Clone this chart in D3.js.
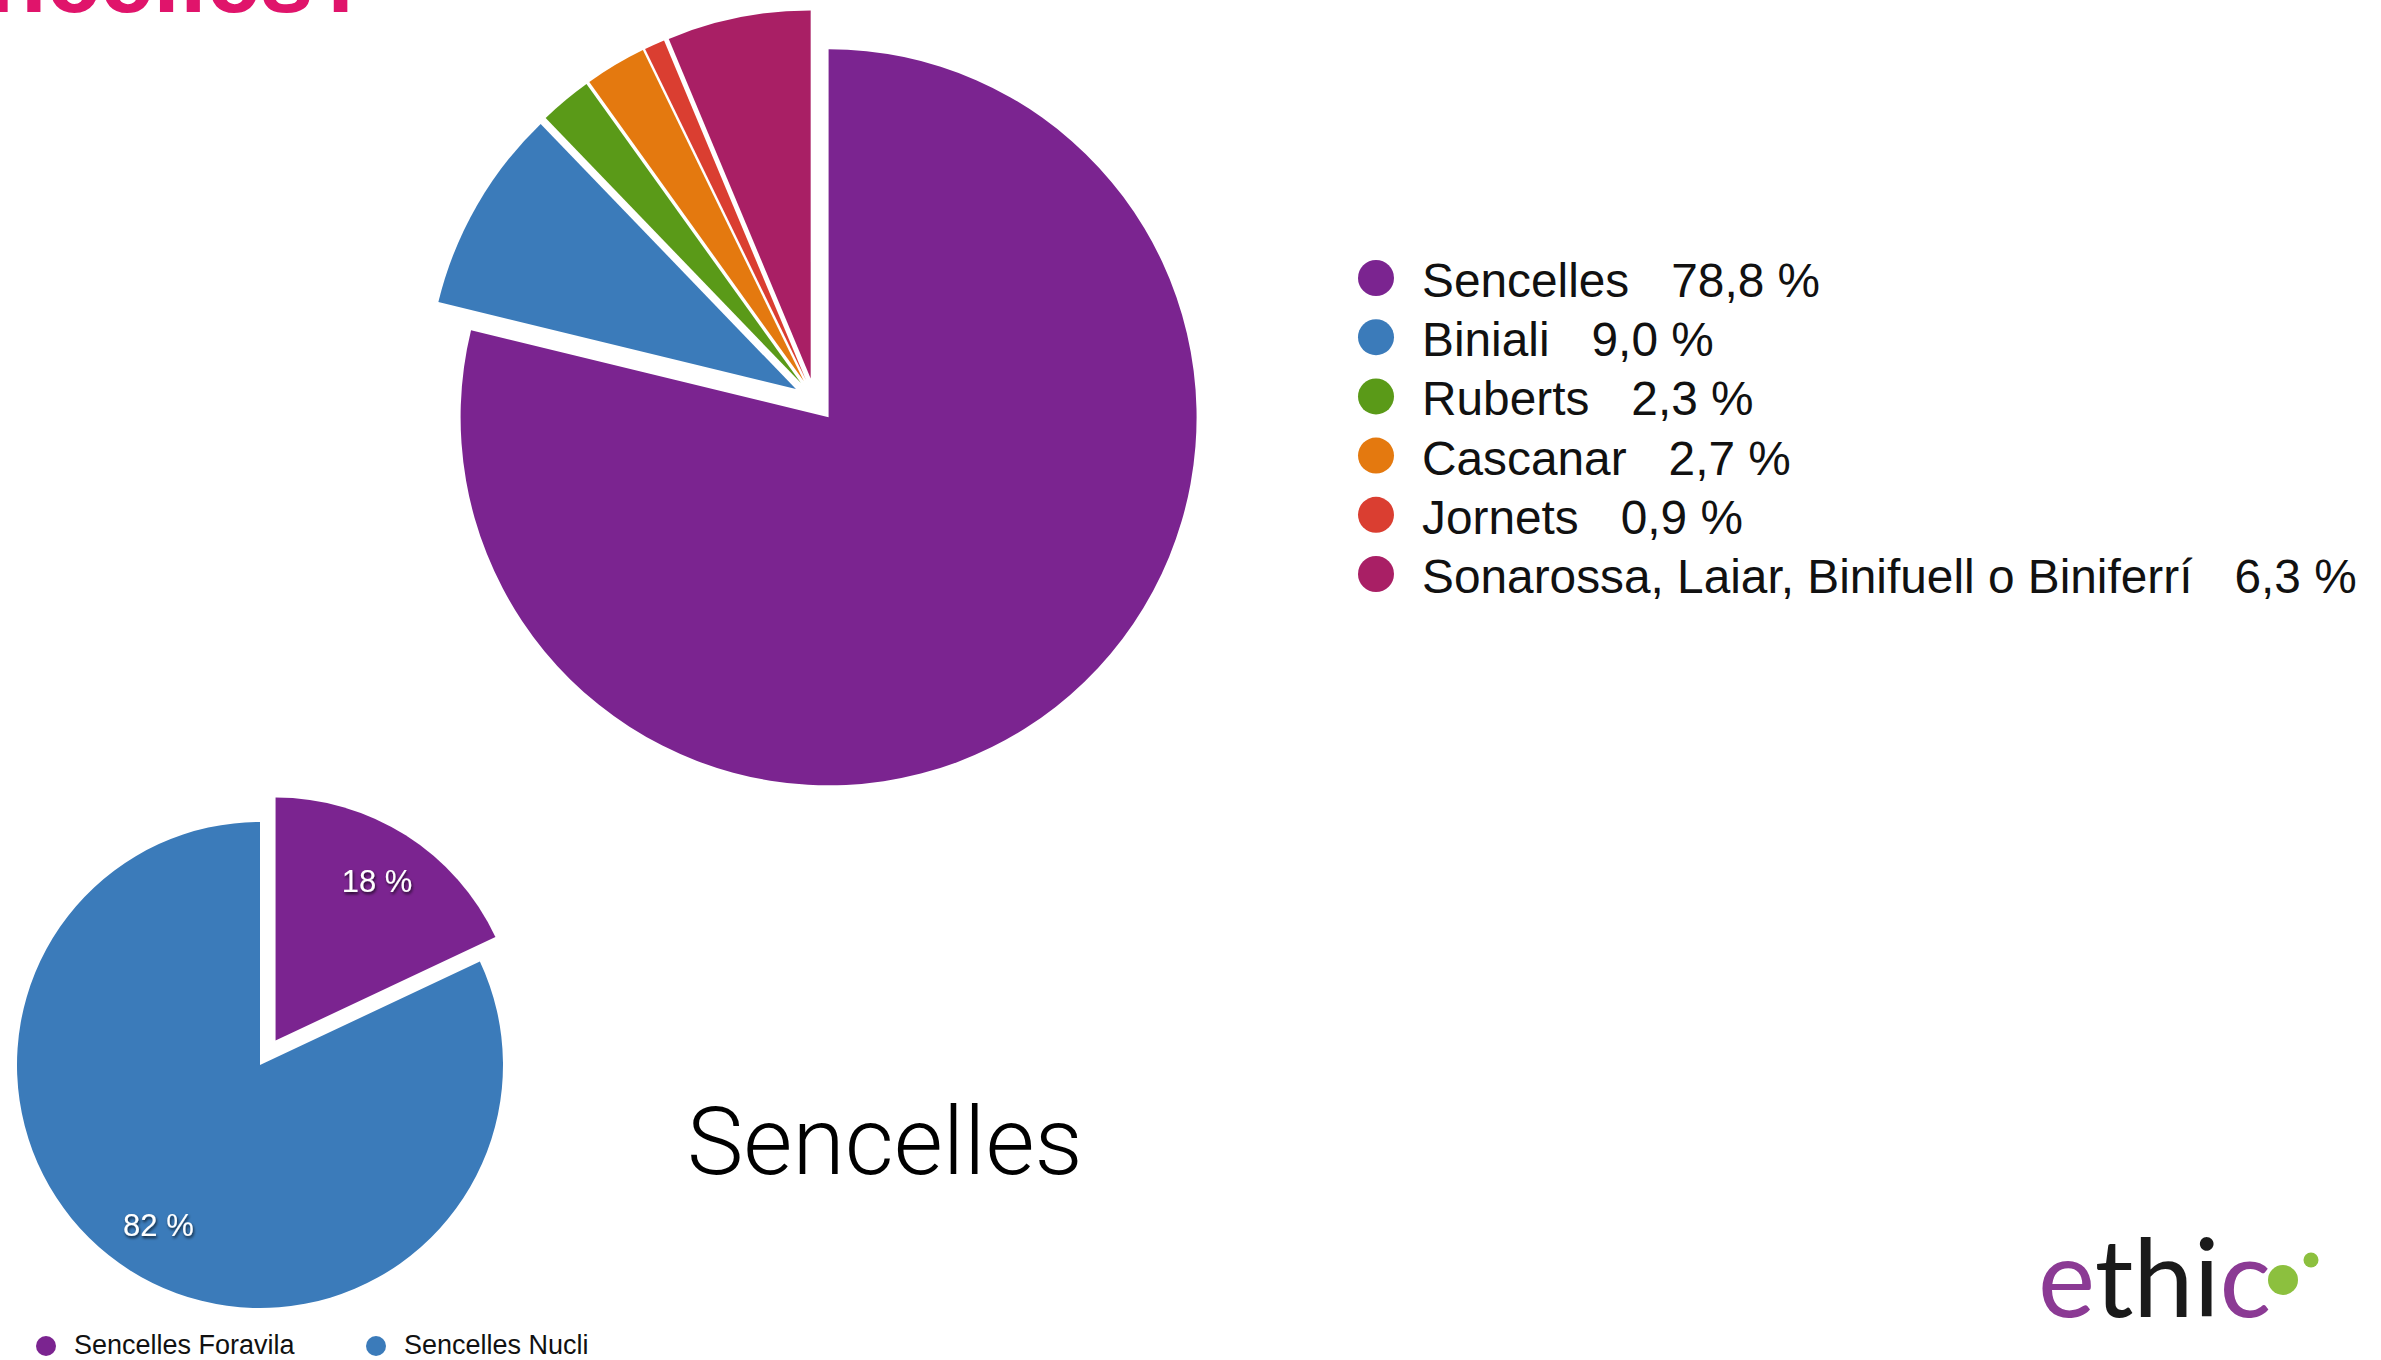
<!DOCTYPE html>
<html>
<head>
<meta charset="utf-8">
<script src="https://cdn.jsdelivr.net/npm/d3@7"></script>
<style>
  html, body { margin: 0; padding: 0; background: #fff; overflow: hidden; }
  svg { display: block; }
</style>
</head>
<body>
<svg id="chart" width="2381" height="1360"></svg>
<script>
// ---- Data ----
const titleText = "Sencelles?";
const bigLabels = ["Sencelles", "Biniali", "Ruberts", "Cascanar", "Jornets", "Sonarossa, Laiar, Binifuell o Biniferrí"];
const bigValues = [78.8, 9.0, 2.3, 2.7, 0.9, 6.3];
const bigColors = ["#7b2490", "#3b7bba", "#5a9a18", "#e4790f", "#da3e31", "#a91f65"];

const smallLabels = ["Sencelles Foravila", "Sencelles Nucli"];
const smallValues = [18, 82];
const smallColors = ["#7b2490", "#3b7bba"];
const smallExploded = [true, false];

const subtitle = "Sencelles";
const logoParts = [
  { t: "e", c: "#8b3a94" },
  { t: "thi", c: "#1a1a1a" },
  { t: "c", c: "#8b3a94" }
];

// ---- Drawing ----
const svg = d3.select("#chart");
const fmt = v => d3.format(".1f")(v).replace(".", ",");

const defs = svg.append("defs");
const shadow = defs.append("filter").attr("id", "tshadow")
  .attr("x", "-20%").attr("y", "-20%").attr("width", "140%").attr("height", "160%");
shadow.append("feDropShadow").attr("dx", 1).attr("dy", 2).attr("stdDeviation", 1.6)
  .attr("flood-color", "#000").attr("flood-opacity", 0.75);

// Title (clipped at top of page, as in the reference)
svg.append("text")
  .attr("x", 372).attr("y", 12)
  .attr("text-anchor", "end")
  .attr("font-family", "Liberation Sans, Arial, sans-serif")
  .attr("font-weight", "bold")
  .attr("font-size", 96)
  .attr("fill", "#e0146b")
  .text(titleText);

// Big pie
const bigR = 368, bigExplode = 22;
const bigC = { x: 815, y: 400 };
const pie = d3.pie().sort(null).value(d => d);
const bigArcs = pie(bigValues);
const arcBig = d3.arc().innerRadius(0).outerRadius(bigR);
const gBig = svg.append("g").attr("transform", `translate(${bigC.x},${bigC.y})`);
gBig.selectAll("path").data(bigArcs).join("path")
  .attr("d", arcBig)
  .attr("fill", (d, i) => bigColors[i])
  .attr("transform", d => {
    const a = (d.startAngle + d.endAngle) / 2;
    return `translate(${Math.sin(a) * bigExplode},${-Math.cos(a) * bigExplode})`;
  });

// Big legend
const legX = 1376, legY0 = 278, legStep = 59.2;
const gLeg = svg.append("g");
bigLabels.forEach((lab, i) => {
  const y = legY0 + i * legStep;
  gLeg.append("circle").attr("cx", legX).attr("cy", y).attr("r", 18).attr("fill", bigColors[i]);
  const t = gLeg.append("text")
    .attr("x", legX + 46).attr("y", y + 19)
    .attr("font-family", "Liberation Sans, Arial, sans-serif")
    .attr("font-size", 47.8).attr("fill", "#111");
  t.append("tspan").text(lab);
  t.append("tspan").attr("dx", 42).text(fmt(bigValues[i]) + " %");
});

// Small pie
const smR = 243, smExplode = 29;
const smC = { x: 260, y: 1065 };
const smArcs = pie(smallValues);
const arcSm = d3.arc().innerRadius(0).outerRadius(smR);
const arcSmLabel = d3.arc().innerRadius(smR * 0.78).outerRadius(smR * 0.78);
const gSm = svg.append("g").attr("transform", `translate(${smC.x},${smC.y})`);
const off = (d, i) => {
  if (!smallExploded[i]) return [0, 0];
  const a = (d.startAngle + d.endAngle) / 2;
  return [Math.sin(a) * smExplode, -Math.cos(a) * smExplode];
};
gSm.selectAll("path").data(smArcs).join("path")
  .attr("d", arcSm)
  .attr("fill", (d, i) => smallColors[i])
  .attr("transform", (d, i) => `translate(${off(d, i)})`);
gSm.selectAll("text").data(smArcs).join("text")
  .attr("transform", (d, i) => {
    const o = off(d, i), c = arcSmLabel.centroid(d);
    return `translate(${c[0] + o[0]},${c[1] + o[1]})`;
  })
  .attr("text-anchor", "middle").attr("dy", "0.36em")
  .attr("font-family", "Liberation Sans, Arial, sans-serif")
  .attr("font-size", 31).attr("fill", "#fff")
  .attr("filter", "url(#tshadow)")
  .text(d => d.data + " %");

// Small legend
const smLegX = [46, 376];
smallLabels.forEach((lab, i) => {
  svg.append("circle").attr("cx", smLegX[i]).attr("cy", 1346).attr("r", 10).attr("fill", smallColors[i]);
  svg.append("text").attr("x", smLegX[i] + 28).attr("y", 1354)
    .attr("font-family", "Liberation Sans, Arial, sans-serif")
    .attr("font-size", 27).attr("fill", "#111").text(lab);
});

// Subtitle
svg.append("text").attr("x", 687).attr("y", 1174)
  .attr("font-family", "Roboto, sans-serif").attr("font-weight", 300)
  .attr("font-size", 95).attr("fill", "#000").text(subtitle);

// Logo
const logo = svg.append("text").attr("x", 2038).attr("y", 1317)
  .attr("font-family", "Lato, sans-serif").attr("font-weight", 400)
  .attr("font-size", 108);
logoParts.forEach(p => logo.append("tspan").attr("fill", p.c).text(p.t));
svg.append("circle").attr("cx", 2283).attr("cy", 1280).attr("r", 15).attr("fill", "#8cc03e");
svg.append("circle").attr("cx", 2311).attr("cy", 1260).attr("r", 7.5).attr("fill", "#8cc03e");
</script>
</body>
</html>
